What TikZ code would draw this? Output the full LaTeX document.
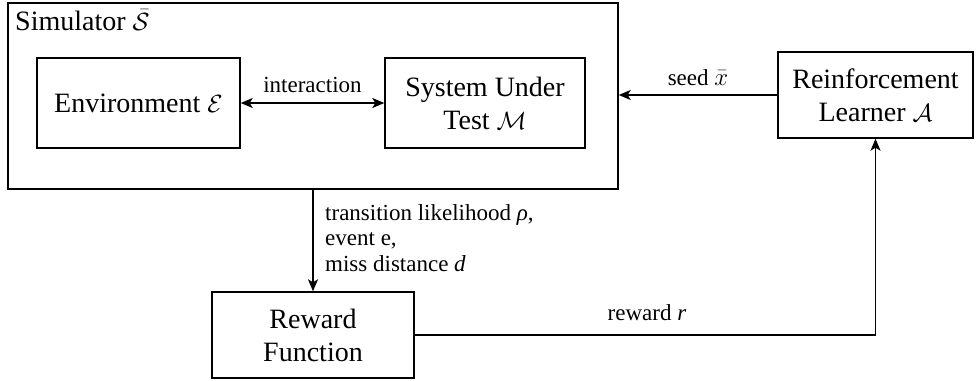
\documentclass[tikz,border=0pt]{standalone}
\usepackage{fontspec}
\setmainfont{LiberationSerif}[Extension=.ttf, UprightFont=*-Regular, ItalicFont=*-Italic, BoldFont=*-Bold, BoldItalicFont=*-BoldItalic]
\usetikzlibrary{arrows.meta,calc}
\begin{document}
\begin{tikzpicture}[x=1pt,y=-1pt,
  box/.style={draw, line width=1.4pt, inner sep=0pt, align=center, font=\rmfamily\fontsize{28}{33}\selectfont},
  conn/.style={line width=1.4pt, -{Stealth[length=12pt,width=10pt,inset=3pt]}},
  lbl/.style={inner sep=0pt, font=\rmfamily\fontsize{23}{25.5}\selectfont}]
\useasboundingbox (0,0) rectangle (976,380);
\node[box, minimum width=610pt, minimum height=186pt] (sim) at (313,96) {};
\node[lbl, anchor=base west, font=\rmfamily\fontsize{28}{33}\selectfont] (simlbl) at (15,30) {Simulator $\bar{\mathcal{S}}$};
\node[box, minimum width=203pt, minimum height=90pt] (env) at (138.5,103) {Environment $\mathcal{E}$};
\node[box, minimum width=200pt, minimum height=90pt] (sut) at (485,103) {System Under\\Test $\mathcal{M}$};
\node[box, minimum width=195pt, minimum height=86pt] (rl) at (875.5,95) {Reinforcement\\Learner $\mathcal{A}$};
\node[box, minimum width=202pt, minimum height=86pt] (rew) at (313,335) {Reward\\Function};
\draw[conn, {Stealth[length=12pt,width=10pt,inset=3pt]}-{Stealth[length=12pt,width=10pt,inset=3pt]}] (env.east) -- (sut.west);
\node[lbl, anchor=base] (inter) at (312.5,92) {interaction};
\draw[conn] (rl.west) -- (rl.west -| sim.east);
\node[lbl, anchor=base] (seed) at (698,85) {seed $\bar{x}$};
\draw[conn] (sim.south) -- (rew.north);
\node[lbl, anchor=north west, align=left] (trans) at (325,204) {transition likelihood \textit{ρ},\\event e,\\miss distance \textit{d}};
\draw[conn] (rew.east) -- (rew.east -| rl.south) -- (rl.south);
\node[lbl, anchor=base] (rwd) at (647,320) {reward \textit{r}};
\end{tikzpicture}
\end{document}
